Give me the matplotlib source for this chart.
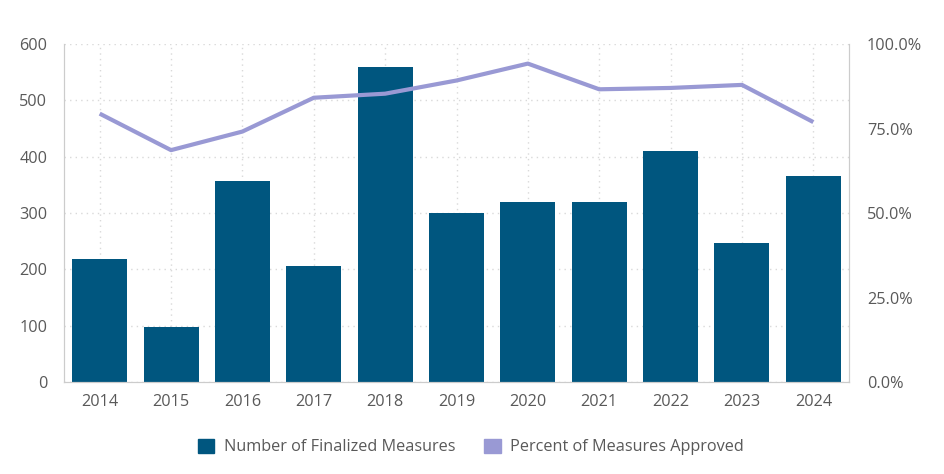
import matplotlib.pyplot as plt
from matplotlib.patches import Patch
from matplotlib.ticker import FuncFormatter

plt.rcParams['font.family'] = ['Open Sans', 'DejaVu Sans']

years = ['2014', '2015', '2016', '2017', '2018', '2019', '2020', '2021', '2022', '2023', '2024']
finalized = [219, 97, 357, 206, 559, 300, 319, 319, 410, 246, 366]
pct_approved = [79.4, 68.6, 74.1, 84.1, 85.3, 89.2, 94.2, 86.6, 87.0, 87.9, 76.9]

BAR_COLOR = '#00567f'
LINE_COLOR = '#9999d4'
TEXT_COLOR = '#595959'
SPINE_COLOR = '#cccccc'

fig = plt.figure(figsize=(9.45, 4.74), dpi=100)
ax = fig.add_axes([64 / 945, 1 - 382 / 474, (849 - 64) / 945, (382 - 44) / 474])
ax2 = ax.twinx()

x = list(range(len(years)))
ax.bar(x, finalized, width=0.77, color=BAR_COLOR, zorder=2)
ax2.plot(x, pct_approved, color=LINE_COLOR, linewidth=3, zorder=3, solid_capstyle='butt')

ax.set_xlim(-0.5, len(years) - 0.5)
ax.set_ylim(0, 600)
ax.set_yticks(range(0, 601, 100))
ax2.set_ylim(0, 100)
ax2.set_yticks([0, 25, 50, 75, 100])
ax2.yaxis.set_major_formatter(FuncFormatter(lambda v, p: f"{v:.1f}%"))

ax.set_xticks(x)
ax.set_xticklabels(years)

ax.grid(True, linestyle=(0, (1, 3)), color='#d9d9d9', linewidth=1, zorder=0)
ax.set_axisbelow(True)

for a in (ax, ax2):
    a.spines['top'].set_visible(False)
    for s in ('left', 'right', 'bottom'):
        a.spines[s].set_color(SPINE_COLOR)
    a.tick_params(length=0, labelsize=11.7, colors=TEXT_COLOR)
ax.tick_params(axis='y', pad=12)
ax.tick_params(axis='x', pad=9)
ax2.tick_params(axis='y', pad=13)

handles = [Patch(color=BAR_COLOR, label='Number of Finalized Measures'),
           Patch(color=LINE_COLOR, label='Percent of Measures Approved')]
fig.legend(handles=handles, loc='center', bbox_to_anchor=(471 / 945, 1 - 447 / 474), ncol=2,
           frameon=False, fontsize=11.7, handlelength=1.0, handleheight=1.0,
           handletextpad=0.6, columnspacing=1.8, labelcolor=TEXT_COLOR)

fig.savefig('out.png', dpi=100)
